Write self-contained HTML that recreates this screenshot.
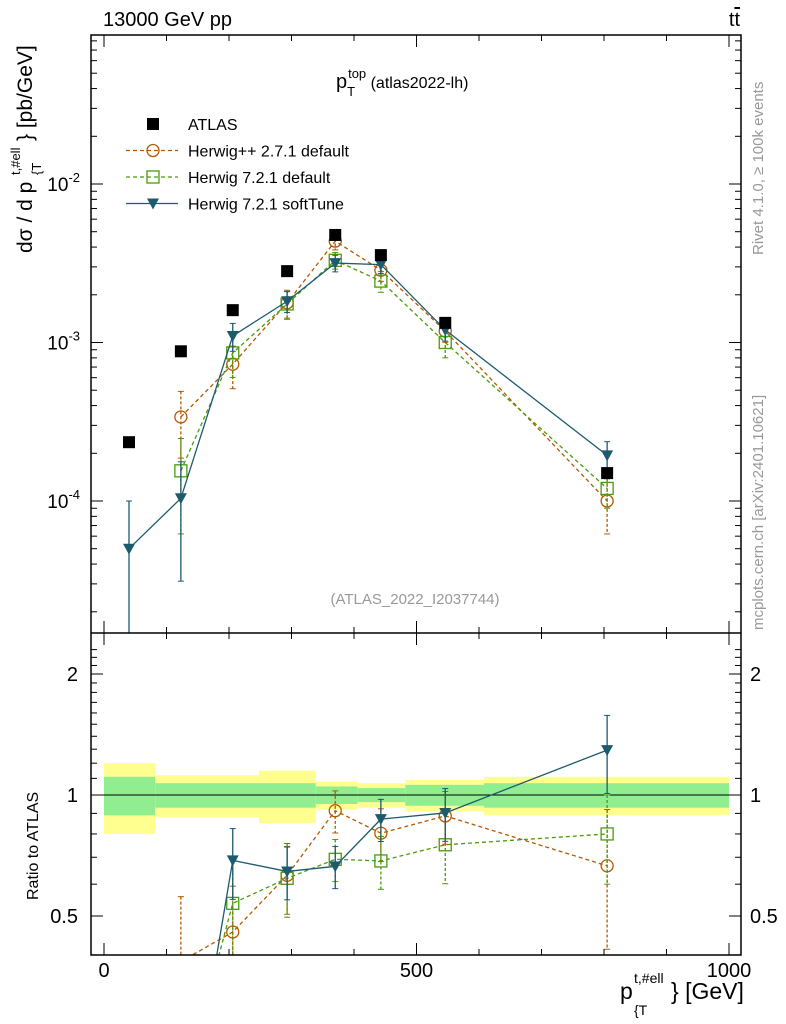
<!DOCTYPE html>
<html><head><meta charset="utf-8"><style>
html,body{margin:0;background:#fff;overflow:hidden;width:786px;height:1024px}
svg{display:block}
svg text{font-family:"Liberation Sans",sans-serif}
</style></head><body>
<svg id="c" width="786" height="1024" xmlns="http://www.w3.org/2000/svg"></svg>
<script>
const binCenters=[40,123,206,293,370,443,546,805];
const binEdges=[0,82,168,248,339,406,482,608,1000];
const atlas=[2.35e-4,8.8e-4,1.6e-3,2.82e-3,4.77e-3,3.56e-3,1.33e-3,1.5e-4];
const herwigPP=[null,3.39e-4,7.3e-4,1.78e-3,4.36e-3,2.86e-3,1.18e-3,1.0e-4];
const herwigPPErr=[0,0.45,0.3,0.2,0.12,0.15,0.15,0.38];
const herwigDef=[null,1.55e-4,8.6e-4,1.75e-3,3.3e-3,2.44e-3,1.0e-3,1.2e-4];
const herwigDefErr=[0,0.6,0.3,0.2,0.12,0.15,0.2,0.25];
const softTune=[5.0e-5,1.04e-4,1.1e-3,1.82e-3,3.17e-3,3.1e-3,1.2e-3,1.94e-4];
const softTuneErr=[1.0,0.7,0.2,0.15,0.12,0.12,0.15,0.22];
const bandTotal=[0.2,0.12,0.12,0.15,0.08,0.07,0.09,0.11];
const bandStat=[0.11,0.07,0.07,0.07,0.05,0.04,0.06,0.07];
const xTicks=[0,500,1000];
const yTicksMain=[-4,-3,-2];
const ratioTicks=[0.5,1,2];

const S=document.getElementById('c');const NS='http://www.w3.org/2000/svg';
function el(t,a,p){const e=document.createElementNS(NS,t);for(const k in a)e.setAttribute(k,a[k]);(p||S).appendChild(e);return e;}
const L=91,R=741,T=35,M=633,B=955;
const X=v=>104+v*0.625;
const Y=v=>184-(Math.log10(v)+2)*158.5;
const YR=r=>795-Math.log2(r)*121;
const clampM=y=>Math.min(Math.max(y,T),M);
const clampR=y=>Math.min(Math.max(y,M),B);
const cm=el('clipPath',{id:'cm'});el('rect',{x:L,y:T,width:R-L,height:M-T},cm);
const cr=el('clipPath',{id:'cr'});el('rect',{x:L,y:M,width:R-L,height:B-M},cr);
const gm=el('g',{'clip-path':'url(#cm)'});
const gr=el('g',{'clip-path':'url(#cr)'});
for(let i=0;i<binCenters.length;i++){
 let r=el('rect',{x:X(binEdges[i]),y:YR(1+bandTotal[i]),width:X(binEdges[i+1])-X(binEdges[i]),height:YR(1-bandTotal[i])-YR(1+bandTotal[i]),fill:'#ffff90'},gr);
 
 r=el('rect',{x:X(binEdges[i]),y:YR(1+bandStat[i]),width:X(binEdges[i+1])-X(binEdges[i]),height:YR(1-bandStat[i])-YR(1+bandStat[i]),fill:'#90ee90'},gr);
 
}
el('line',{x1:L,x2:R,y1:YR(1),y2:YR(1),stroke:'#000','stroke-width':1},gr);
el('rect',{x:L,y:T,width:R-L,height:B-T,fill:'none',stroke:'#000','stroke-width':1.5});
el('line',{x1:L,x2:R,y1:M,y2:M,stroke:'#000','stroke-width':1.5});
for(let v=0;v<=1000;v+=100){const maj=v%500==0;
 for(const [yb,d] of [[B,-1],[M,-1],[M,1],[T,1]]){el('line',{x1:X(v),x2:X(v),y1:yb,y2:yb+d*(maj?12:6),stroke:'#000'});}
}
xTicks.forEach(v=>{const t=el('text',{x:X(v),y:977,'font-size':20,'text-anchor':'middle'});t.textContent=v;});
for(let d=-5;d<=-1;d++)for(let m=1;m<10;m++){const v=m*Math.pow(10,d);const y=Y(v);if(y<T||y>M)continue;const len=m==1?12:6;
 el('line',{x1:L,x2:L+len,y1:y,y2:y,stroke:'#000'});el('line',{x1:R,x2:R-len,y1:y,y2:y,stroke:'#000'});}
yTicksMain.forEach(d=>{const t=el('text',{x:80,y:Y(Math.pow(10,d))+7,'font-size':19,'text-anchor':'end'});t.innerHTML='10<tspan dy="-9" font-size="13">'+d+'</tspan>';});
for(let r=0.4;r<=2.4;r+=0.1){const y=YR(r);if(y<M||y>B)continue;const maj=Math.abs(r-0.5)<1e-6||Math.abs(r-1)<1e-6||Math.abs(r-2)<1e-6;const len=maj?12:6;
 el('line',{x1:L,x2:L+len,y1:y,y2:y,stroke:'#000'});el('line',{x1:R,x2:R-len,y1:y,y2:y,stroke:'#000'});}
ratioTicks.forEach(r=>{const y=YR(r)+7;let t=el('text',{x:78,y:y,'font-size':20,'text-anchor':'end'});t.textContent=r;
 t=el('text',{x:750,y:y,'font-size':20});t.textContent=r;});
function marker(g,type,x,y,col){
 if(type=='sq')el('rect',{x:x-6,y:y-6,width:12,height:12,fill:'none',stroke:col,'stroke-width':1.3},g);
 else if(type=='circ')el('circle',{cx:x,cy:y,r:6,fill:'none',stroke:col,'stroke-width':1.3},g);
 else if(type=='tri')el('path',{d:`M${x-6} ${y-5}L${x+6} ${y-5}L${x} ${y+6}Z`,fill:col},g);
 else el('rect',{x:x-6,y:y-6,width:12,height:12,fill:col},g);
}
const series=[[herwigPP,herwigPPErr,'#b35900','circ','4,3','herwigpp'],[herwigDef,herwigDefErr,'#4a9a0c','sq','4,3','herwig721-default'],[softTune,softTuneErr,'#1c5a6e','tri','','herwig721-softtune']];
series.forEach(([vals,errs,col,mk,dash,nm])=>{
 for(const [g,f,isR] of [[gm,(v,i)=>Y(v),false],[gr,(v,i)=>YR(v/atlas[i]),true]]){
  const cl=isR?clampR:clampM;
  const sg=el('g',{},g);
  let pts=[];vals.forEach((v,i)=>{if(v!=null)pts.push([X(binCenters[i]),f(v,i),i]);});
  el('polyline',{points:pts.map(p=>p[0]+','+p[1]).join(' '),fill:'none',stroke:col,'stroke-width':1.3,'stroke-dasharray':dash},sg);
  pts.forEach(([x,y,i])=>{const v=vals[i];
   if(y>(isR?B:M)+10)return;
   const hi=cl(f(v*(1+errs[i]),i)),lo=cl(f(Math.max(v*(1-errs[i]),1e-9),i));
   el('line',{x1:x,x2:x,y1:hi,y2:lo,stroke:col,'stroke-width':1.3,'stroke-dasharray':dash?'3,2':''},sg);
   el('line',{x1:x-3,x2:x+3,y1:hi,y2:hi,stroke:col},sg);el('line',{x1:x-3,x2:x+3,y1:lo,y2:lo,stroke:col},sg);
   marker(sg,mk,x,y,col);});
 }
});
atlas.forEach((v,i)=>{const p=el('rect',{x:X(binCenters[i])-6,y:Y(v)-6,width:12,height:12,fill:'#000'},gm);});
const lg=el('g',{});
const leg=[['ATLAS','#000','fill',''],['Herwig++ 2.7.1 default','#b35900','circ','4,3'],['Herwig 7.2.1 default','#4a9a0c','sq','4,3'],['Herwig 7.2.1 softTune','#1c5a6e','tri','']];
leg.forEach(([t,col,mk,d],i)=>{const y=124+i*26.5;
 if(mk!='fill')el('line',{x1:126,x2:178,y1:y,y2:y,stroke:col,'stroke-width':1.3,'stroke-dasharray':d},lg);
 marker(lg,mk,153,y,col);const tx=el('text',{x:188,y:y+6,'font-size':16},lg);tx.textContent=t;});
function txt(s,a,nm,p){const t=el('text',a,p);t.innerHTML=s;return t;}
txt('13000 GeV pp',{x:103,y:26,'font-size':20},'header-left');
txt('t<tspan text-decoration="overline">t</tspan>',{x:740,y:26,'font-size':20,'text-anchor':'end'},'header-right');
txt('p<tspan dy="8" font-size="13">T</tspan><tspan dy="-18" font-size="13" dx="-7">top</tspan><tspan dy="10" font-size="16"> (atlas2022-lh)</tspan>',{x:336,y:88,'font-size':20},'plot-title');
txt('(ATLAS_2022_I2037744)',{x:415,y:604,'font-size':15,fill:'#999','text-anchor':'middle'},'analysis-id');
const yt=el('g',{transform:'translate(32,253) rotate(-90)'});
txt('dσ / d p',{x:0,y:0,'font-size':21},'y-title-main',yt);
txt('t,#ell',{x:78,y:-12,'font-size':13},'y-title-sup',yt);
txt('{T',{x:78,y:9,'font-size':13},'y-title-sub',yt);
txt('} [pb/GeV]',{x:112,y:0,'font-size':21},'y-title-unit',yt);
txt('Ratio to ATLAS',{x:0,y:0,'font-size':16,transform:'translate(38,900) rotate(-90)'},'ratio-axis-title');
const xt=el('g',{});
txt('p',{x:620,y:999,'font-size':23},'x-title-main',xt);
txt('t,#ell',{x:634,y:983,'font-size':14},'x-title-sup',xt);
txt('{T',{x:634,y:1015,'font-size':14},'x-title-sub',xt);
txt('} [GeV]',{x:671,y:999,'font-size':23},'x-title-unit',xt);
txt('Rivet 4.1.0, ≥ 100k events',{x:0,y:0,'font-size':15,fill:'#999',transform:'translate(763,255) rotate(-90)'},'rivet-label');
txt('mcplots.cern.ch [arXiv:2401.10621]',{x:0,y:0,'font-size':15,fill:'#999',transform:'translate(763,630) rotate(-90)'},'mcplots-label');
</script>
</body></html>
